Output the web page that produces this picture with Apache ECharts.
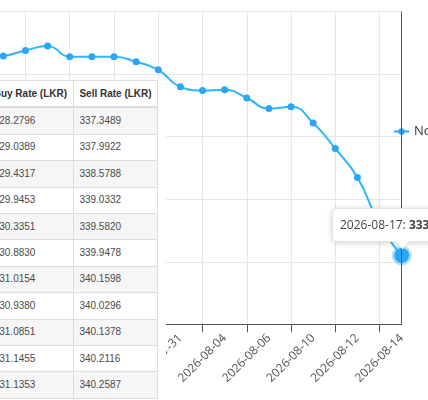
<!DOCTYPE html>
<html lang="en">
<head>
    <meta charset="UTF-8">
    <title>rate chart</title>
    <style>
        html, body { margin: 0; padding: 0; background: #fff; overflow: hidden; width: 428px; height: 400px; }
        #chart1 { position: absolute; left: -300px; top: 0; width: 800px; height: 400px; }
        .rates { position: absolute; left: 0; top: 80px; width: 166px; height: 320px; background: #fff; overflow: hidden; }
        .rates table { position: absolute; left: -13px; top: 0; border-collapse: collapse; table-layout: fixed;
            font-family: "Liberation Sans", Arial, sans-serif; font-size: 10px; line-height: 14.4px; color: #4a4a4a; }
        .rates th, .rates td { padding: 5.5px 5.7px; border: 1px solid #ddd; text-align: left; white-space: nowrap; }
        .rates th { color: #333; font-weight: bold; border-bottom-width: 2px; }
        .rates tbody tr:nth-child(odd) td { background: #f6f6f6; }
    </style>
</head>
<body>
<script src="https://cdn.jsdelivr.net/npm/echarts@6/dist/echarts.min.js"></script>
<div id="chart1"></div>
<div class="rates">
    <table>
        <colgroup><col style="width:86px"><col style="width:89px"></colgroup>
        <thead><tr><th>Buy Rate (LKR)</th><th>Sell Rate (LKR)</th></tr></thead>
        <tbody id="rateRows"></tbody>
    </table>
</div>
<script type="text/javascript">
    // dates on the x axis (business days)
    var dates = ['2026-07-21', '2026-07-22', '2026-07-23', '2026-07-24', '2026-07-27', '2026-07-28',
        '2026-07-29', '2026-07-30', '2026-07-31', '2026-08-03', '2026-08-04', '2026-08-05',
        '2026-08-06', '2026-08-07', '2026-08-10', '2026-08-11', '2026-08-12', '2026-08-13',
        '2026-08-14', '2026-08-17'];
    var rates = [336.26, 336.29, 336.38, 336.45, 336.28, 336.28, 336.28, 336.20, 336.07, 335.80,
        335.74, 335.75, 335.62, 335.45, 335.48, 335.22, 334.81, 334.35, 333.60, 333.10];
    var seriesName = 'Notes Rate';

    // table rows
    var buyRates = ['328.2796', '329.0389', '329.4317', '329.9453', '330.3351', '330.8830',
        '331.0154', '330.9380', '331.0851', '331.1455', '331.1353'];
    var sellRates = ['337.3489', '337.9922', '338.5788', '339.0332', '339.5820', '339.9478',
        '340.1598', '340.0296', '340.1378', '340.2116', '340.2587'];

    var rows = '';
    for (var i = 0; i < buyRates.length; i++) {
        rows += '<tr><td>' + buyRates[i] + '</td><td>' + sellRates[i] + '</td></tr>';
    }
    document.getElementById('rateRows').innerHTML = rows;

    var blue = '#2aa6f5';
    var myChart1 = echarts.init(document.getElementById('chart1'));
    myChart1.setOption({
        animation: false,
        textStyle: { fontFamily: 'Open Sans' },
        grid: { left: 281.2, right: 98.3, top: 11.7, bottom: 75.7 },
        legend: {
            orient: 'vertical',
            left: 688,
            top: 120,
            itemWidth: 15,
            itemHeight: 8,
            itemGap: 10,
            textStyle: { color: '#333', fontSize: 13, fontFamily: 'Open Sans' },
            data: [seriesName]
        },
        tooltip: {
            trigger: 'axis',
            alwaysShowContent: true,
            transitionDuration: 0,
            backgroundColor: '#fff',
            borderColor: '#e3e3e3',
            borderWidth: 1,
            borderRadius: 5,
            padding: [7, 7],
            textStyle: { color: '#444', fontSize: 12, fontFamily: 'Open Sans' },
            extraCssText: 'box-shadow: 0 1px 6px rgba(0,0,0,0.18);',
            axisPointer: {
                type: 'line',
                lineStyle: { color: '#555', width: 1, type: 'solid' }
            },
            position: function (point) {
                return [point[0] - 70, point[1] - 48];
            },
            formatter: function (params) {
                var p = params[0];
                return p.name + ': <b>' + p.value.toFixed(2) + '</b>' +
                    '<div style="position:absolute;left:64px;bottom:-6px;width:10px;height:10px;background:#fff;' +
                    'transform:rotate(45deg);border-right:1px solid #e3e3e3;border-bottom:1px solid #e3e3e3;"></div>';
            }
        },
        xAxis: {
            type: 'category',
            boundaryGap: false,
            data: dates,
            axisLine: { lineStyle: { color: '#555', width: 1 } },
            axisTick: { length: 8, lineStyle: { color: '#555' } },
            axisLabel: {
                interval: 1,
                rotate: 45,
                align: 'center',
                verticalAlign: 'middle',
                margin: 34,
                color: '#555',
                fontSize: 12,
                fontFamily: 'Open Sans'
            },
            splitLine: { show: true, lineStyle: { color: '#e6e6e6' } }
        },
        yAxis: {
            type: 'value',
            min: 332,
            max: 337,
            interval: 1,
            axisLine: { show: false },
            axisLabel: { color: '#555' },
            splitLine: { lineStyle: { color: '#e6e6e6' } }
        },
        series: [{
            name: seriesName,
            type: 'line',
            data: rates,
            smooth: true,
            symbol: 'circle',
            symbolSize: 7,
            itemStyle: { color: blue },
            lineStyle: { color: blue, width: 2 },
            emphasis: {
                scale: 2.15,
                itemStyle: { color: blue, borderColor: 'rgba(42,166,245,0.35)', borderWidth: 5 },
                lineStyle: { width: 2 }
            }
        }]
    });

    myChart1.dispatchAction({ type: 'showTip', seriesIndex: 0, dataIndex: dates.length - 1 });
</script>
</body>
</html>
